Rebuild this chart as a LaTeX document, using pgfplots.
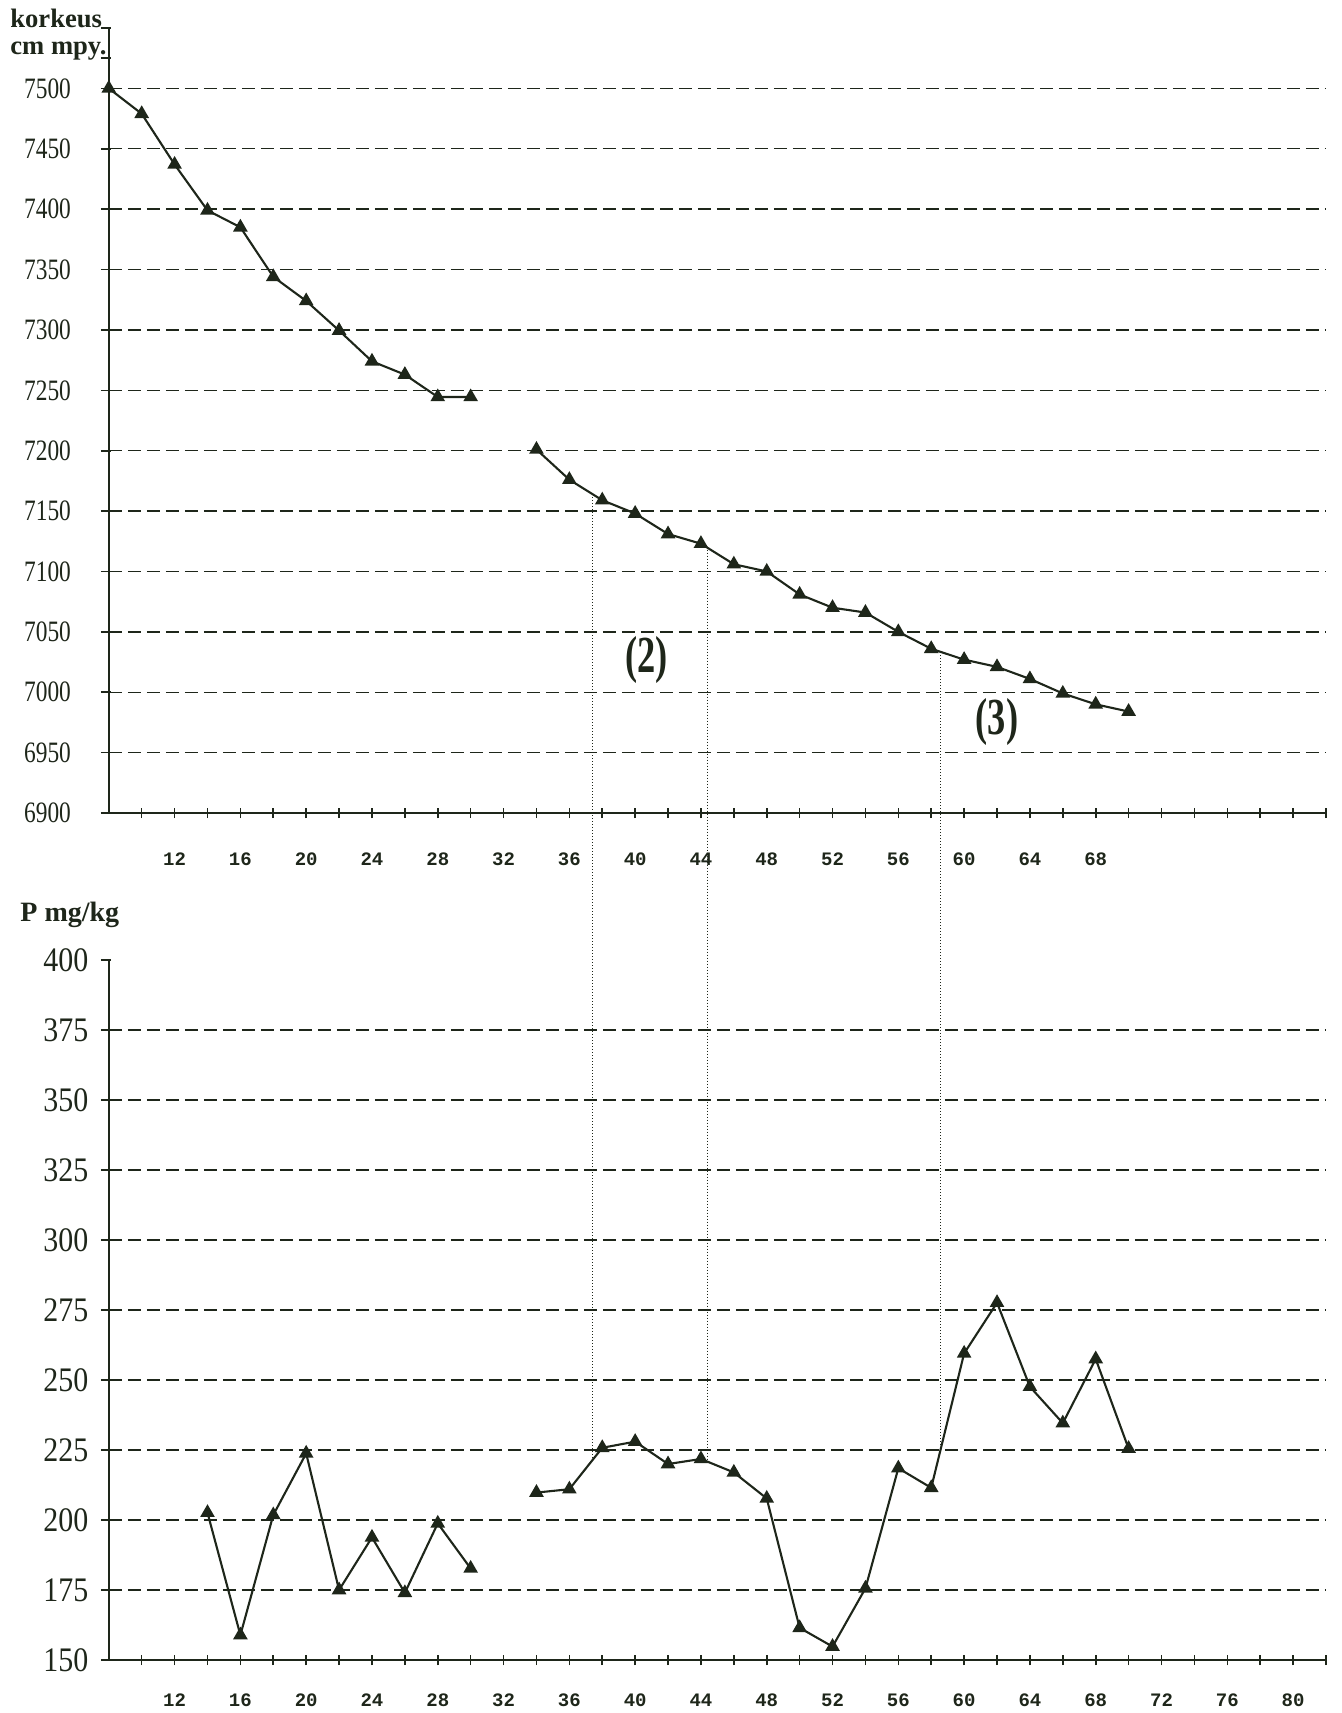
\documentclass[border=0pt]{standalone}
\usepackage{graphicx}
\usepackage{pgfplots}
\pgfplotsset{compat=1.18}
\usepackage{fontspec}
\setmainfont{Liberation Serif}
\newfontfamily\xtfont{Liberation Mono}
\definecolor{ink}{RGB}{30,38,26}

\newcommand{\topytl}[1]{\fontsize{14.8}{14.8}\selectfont\scalebox{0.79}[1]{#1}}
\newcommand{\botytl}[1]{\fontsize{17.2}{17.2}\selectfont\scalebox{0.87}[1]{#1}}
\newcommand{\bignum}[1]{\bfseries\fontsize{26}{26}\selectfont\scalebox{0.7}[1]{#1}}

\pgfplotsset{
  myax/.style={
    scale only axis, width=608.6pt, xmin=8, xmax=82,
    clip=false,
    axis lines=left,
    axis line style={ink, line width=0.9pt, -},
    tick align=center,
    major tick length=5pt, minor tick length=5pt,
    tick style={ink, line width=0.8pt},
    y tick style={xshift=-1.5pt},
    minor xtick={10,12,...,82},
    ymajorgrids,
    major grid style={ink, dash pattern=on 6.5pt off 3pt, line width=0.7pt},
    /pgf/number format/assume math mode=true,
    /pgf/number format/1000 sep={},
    xticklabel style={font=\xtfont\bfseries\fontsize{9.5}{9.5}\selectfont, text=ink, anchor=center},
    extra y tick style={grid=none},
  },
  pl/.style={ink, line width=1.05pt, mark=triangle*, mark size=3.2pt, mark options={solid, fill=ink}},
}

\begin{document}
\begin{tikzpicture}

% ---------- top: korkeus ----------
\begin{axis}[myax,
  at={(54.4pt,-406.5pt)}, anchor=south west,
  height=392.5pt, ymin=6900, ymax=7550,
  ytick={6900,6950,...,7500},
  yticklabel={\topytl{\pgfmathprintnumber{\tick}}},
  extra y ticks={7525,7550}, extra y tick labels={},
  xtick={12,16,...,68},
  xticklabel style={yshift=-20.5pt},
  yticklabel style={text=ink, anchor=east, xshift=-12.9pt},
]
\addplot[pl] coordinates {
(8,7500) (10,7479) (12,7437) (14,7399) (16,7385) (18,7344) (20,7324)
(22,7299.5) (24,7274) (26,7263) (28,7244.5) (30,7244.5)};
\addplot[pl] coordinates {
(34,7201) (36,7176) (38,7159) (40,7148) (42,7131) (44,7123) (46,7106)
(48,7100) (50,7081) (52,7070) (54,7066) (56,7050) (58,7036) (60,7027)
(62,7021) (64,7011) (66,6999) (68,6990) (70,6984)};
\coordinate (t1) at (axis cs:37.4,7164);
\coordinate (t2) at (axis cs:44.42,7118);
\coordinate (t3) at (axis cs:58.56,7033);
\node[text=ink] at (axis cs:40.7,7026.5) {\bignum{(2)}};
\node[text=ink] at (axis cs:62,6975) {\bignum{(3)}};
\end{axis}

% ---------- bottom: P mg/kg ----------
\begin{axis}[myax,
  at={(54.4pt,-830pt)}, anchor=south west,
  height=350pt, ymin=150, ymax=400,
  ytick={150,175,...,375},
  yticklabel={\botytl{\pgfmathprintnumber{\tick}}},
  extra y ticks={400},
  extra y tick label={\botytl{\pgfmathprintnumber{\tick}}},
  xtick={12,16,...,80},
  xticklabel style={yshift=-17.5pt},
  yticklabel style={text=ink, anchor=east, xshift=-4.2pt},
]
\addplot[pl] coordinates {
(14,202.6) (16,158.9) (18,201.8) (20,223.8) (22,175) (24,193.8) (26,174)
(28,198.8) (30,182.7)};
\addplot[pl] coordinates {
(34,209.8) (36,211) (38,225.8) (40,228) (42,220) (44,221.8) (46,217)
(48,207.7) (50,161.5) (52,154.8) (54,175.6) (56,218.5) (58,211.5)
(60,259.5) (62,277.6) (64,247.6) (66,234.6) (68,257.5) (70,225.5)};
\coordinate (b1) at (axis cs:37.4,221.4);
\coordinate (b2) at (axis cs:44.42,220.8);
\coordinate (b3) at (axis cs:58.56,224.8);
\end{axis}

\draw[ink, densely dotted, line width=0.5pt] (t1) -- (b1);
\draw[ink, densely dotted, line width=0.5pt] (t2) -- (b2);
\draw[ink, densely dotted, line width=0.5pt] (t3) -- (b3);

\node[anchor=base west, inner sep=0pt, font=\bfseries\fontsize{13.3}{13.3}\selectfont, text=ink] at (5pt,-13.6pt) {korkeus};
\node[anchor=base west, inner sep=0pt, font=\bfseries\fontsize{13.3}{13.3}\selectfont, text=ink] at (5pt,-27.2pt) {cm mpy.};
\node[anchor=base west, inner sep=0pt, font=\bfseries\fontsize{14}{14}\selectfont, text=ink] at (10pt,-460.8pt) {P mg/kg};

\pgfresetboundingbox
\path[use as bounding box] (0pt,0pt) rectangle (670.5pt,-856.5pt);
\end{tikzpicture}
\end{document}
